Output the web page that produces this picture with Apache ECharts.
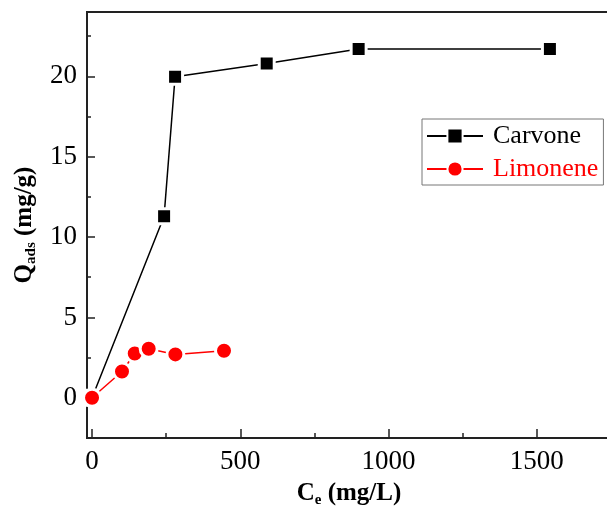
<!DOCTYPE html>
<html>
<head>
<meta charset="utf-8">
<script src="https://cdn.jsdelivr.net/npm/echarts@6/dist/echarts.min.js"></script>
<style>html,body{margin:0;padding:0;background:#fff}#c{width:607px;height:506px}</style>
</head>
<body>
<div id="c"></div>
<script>
var carvoneX = [0, 243, 280, 589, 899, 1544];
var carvoneY = [0, 11.3, 19.97, 20.8, 21.7, 21.7];
var limoneneX = [0, 101, 144, 191, 281, 445];
var limoneneY = [0, 1.64, 2.76, 3.05, 2.70, 2.93];
var xMajor = [0, 500, 1000, 1500];
var xMinor = [250, 750, 1250, 1750];
var yMajor = [0, 5, 10, 15, 20];
var yMinor = [-2.5, 2.5, 7.5, 12.5, 17.5, 22.5];

function pairs(xs, ys) { return xs.map(function (x, i) { return [x, ys[i]]; }); }

var FONT = 'Liberation Serif';
var AX = '#222';
var chart = echarts.init(document.getElementById('c'), null, {renderer: 'canvas'});
var xRange = {min: -17, max: 1750};
var yRange = {min: -2.5, max: 24};
chart.setOption({
  animation: false,
  backgroundColor: '#fff',
  grid: {left: 87, top: 12, right: -4, bottom: 68, containLabel: false, outerBoundsMode: 'none',
         show: true, borderColor: AX, borderWidth: 2, backgroundColor: 'transparent'},
  legend: {
    orient: 'vertical', left: 422, top: 119,
    padding: [4, 5, 3, 4], itemGap: 7,
    itemWidth: 56, itemHeight: 19,
    borderColor: '#777', borderWidth: 1,
    textStyle: {fontFamily: FONT, fontSize: 26, padding: [0, 0, 0, 5]},
    data: [
      {name: 'Carvone', textStyle: {color: '#000'}},
      {name: 'Limonene', textStyle: {color: '#ff0000'}}
    ]
  },
  xAxis: [{
    type: 'value', min: xRange.min, max: xRange.max, position: 'bottom',
    axisLine: {show: true, onZero: false, lineStyle: {color: AX, width: 2}},
    axisTick: {show: true, inside: true, length: 9, customValues: xMajor, lineStyle: {color: AX, width: 1.5}},
    axisLabel: {show: true, customValues: xMajor, fontFamily: FONT, fontSize: 27, color: '#000', margin: 10,
                formatter: function (v) { return String(v); }},
    splitLine: {show: false},
    name: '{a|C}{b|e}{a| (mg/L)}', nameLocation: 'middle', nameGap: 41,
    nameTextStyle: {rich: {
      a: {fontFamily: FONT, fontSize: 25, fontWeight: 'bold', color: '#000'},
      b: {fontFamily: FONT, fontSize: 15, fontWeight: 'bold', color: '#000', padding: [14, 0, 0, 0]}
    }}
  }, {
    type: 'value', min: xRange.min, max: xRange.max, position: 'bottom',
    axisLine: {show: false, onZero: false},
    axisTick: {show: true, inside: true, length: 5, customValues: xMinor, lineStyle: {color: AX, width: 1.5}},
    axisLabel: {show: false}, splitLine: {show: false}
  }],
  yAxis: [{
    type: 'value', min: yRange.min, max: yRange.max, position: 'left',
    axisLine: {show: true, onZero: false, lineStyle: {color: AX, width: 2}},
    axisTick: {show: true, inside: true, length: 8, customValues: yMajor, lineStyle: {color: AX, width: 1.5}},
    axisLabel: {show: true, customValues: yMajor, fontFamily: FONT, fontSize: 27, color: '#000', margin: 10,
                formatter: function (v) { return String(v); }},
    splitLine: {show: false},
    name: '{a|Q}{b|ads}{a| (mg/g)}', nameLocation: 'middle', nameGap: 46, nameRotate: 90,
    nameTextStyle: {rich: {
      a: {fontFamily: FONT, fontSize: 25, fontWeight: 'bold', color: '#000'},
      b: {fontFamily: FONT, fontSize: 15, fontWeight: 'bold', color: '#000', padding: [14, 0, 0, 0]}
    }}
  }, {
    type: 'value', min: yRange.min, max: yRange.max, position: 'left',
    axisLine: {show: false, onZero: false},
    axisTick: {show: true, inside: true, length: 4, customValues: yMinor, lineStyle: {color: AX, width: 1.5}},
    axisLabel: {show: false}, splitLine: {show: false}
  }],
  series: [{
    name: 'Carvone', type: 'line', data: pairs(carvoneX, carvoneY),
    symbol: 'rect', symbolSize: 15, showAllSymbol: true,
    lineStyle: {color: '#000', width: 1.5},
    itemStyle: {color: '#000', borderColor: '#fff', borderWidth: 3},
    z: 3
  }, {
    name: 'Limonene', type: 'line', data: pairs(limoneneX, limoneneY),
    symbol: 'circle', symbolSize: 17, showAllSymbol: true,
    lineStyle: {color: '#ff0000', width: 1.5},
    itemStyle: {color: '#ff0000', borderColor: '#fff', borderWidth: 3},
    z: 4
  }]
});
</script>
</body>
</html>
